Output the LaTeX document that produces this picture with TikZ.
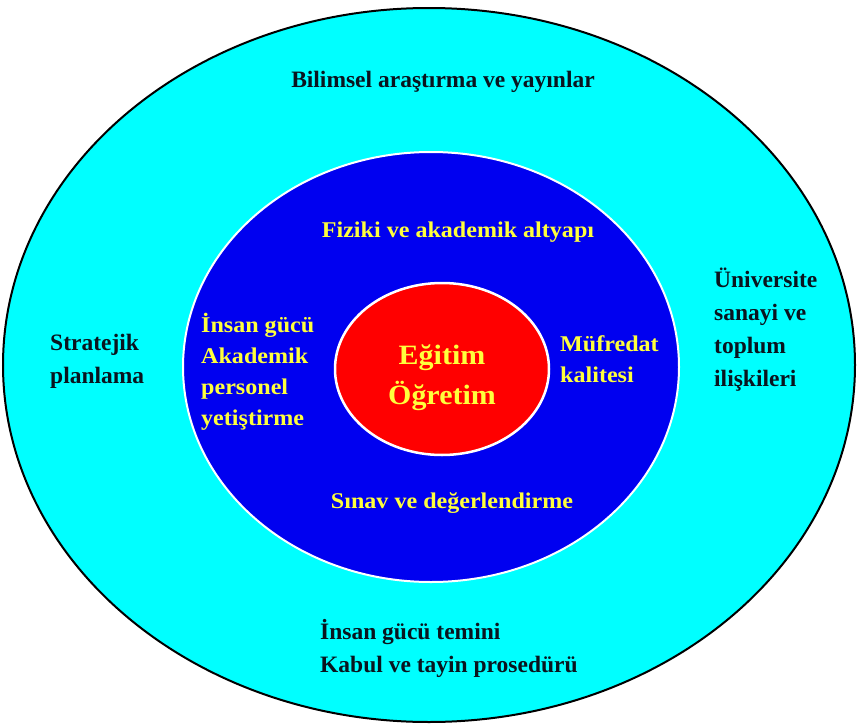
\documentclass[tikz,border=0pt]{standalone}
\usepackage{fontspec}
\setmainfont{Liberation Serif}
\newfontfamily\widefont[FakeStretch=1.07]{Liberation Serif}
\usetikzlibrary{shapes.geometric}
\definecolor{cyanfill}{RGB}{0,255,255}
\definecolor{bluefill}{RGB}{0,0,240}
\definecolor{redfill}{RGB}{255,0,0}
\definecolor{yel}{RGB}{255,255,60}
\definecolor{dark}{RGB}{10,20,30}
\tikzset{
  ring/.style={ellipse, inner sep=0pt},
  outertxt/.style={text=dark, font=\bfseries\fontsize{23.5}{33}\selectfont, inner sep=0pt},
  innertxt/.style={text=yel, font=\widefont\bfseries\fontsize{22.5}{31}\selectfont, inner sep=0pt},
  coretxt/.style={text=yel, font=\widefont\bfseries\fontsize{28}{40}\selectfont, inner sep=0pt, align=center}
}
\begin{document}
\begin{tikzpicture}[x=1pt,y=-1pt]
\useasboundingbox (0,0) rectangle (857,728);
\node[ring, fill=cyanfill, draw=black, line width=2pt, minimum width=852pt, minimum height=714pt] (outer) at (429,365) {};
\node[ring, fill=bluefill, draw=white, line width=2pt, minimum width=496pt, minimum height=430pt] (mid) at (431,367) {};
\node[ring, fill=redfill, draw=white, line width=2.5pt, minimum width=214pt, minimum height=172pt] (core) at (442,369) {};

\node[outertxt] (t1) at (443,82) {Bilimsel araştırma ve yayınlar};
\node[outertxt, align=left, anchor=west] (t2) at (50,361) {Stratejik\\planlama};
\node[outertxt, align=left, anchor=west] (t3) at (714,330) {Üniversite\\sanayi ve\\toplum\\ilişkileri};
\node[outertxt, align=left, anchor=west] (t4) at (320,648) {İnsan gücü temini\\Kabul ve tayin prosedürü};

\node[innertxt] (m1) at (458,232) {Fiziki ve akademik altyapı};
\node[innertxt, align=left, anchor=west] (m2) at (201,372) {İnsan gücü\\Akademik\\personel\\yetiştirme};
\node[innertxt, align=left, anchor=west] (m3) at (560,359) {Müfredat\\kalitesi};
\node[innertxt] (m4) at (452,503) {Sınav ve değerlendirme};

\node[coretxt] (c) at (442,378) {Eğitim\\Öğretim};
\end{tikzpicture}
\end{document}
